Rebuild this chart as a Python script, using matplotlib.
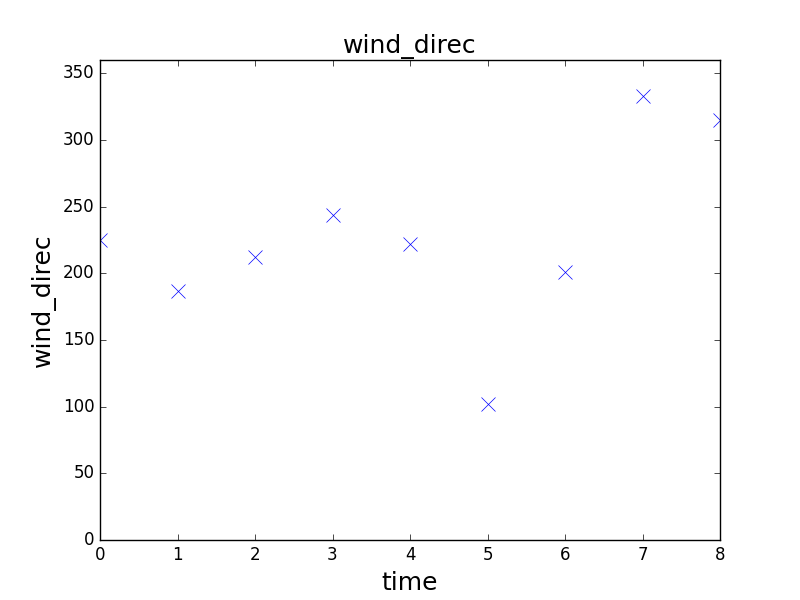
import matplotlib
matplotlib.use("Agg")
import matplotlib.pyplot as plt

plt.style.use('classic')

time = [0, 1, 2, 3, 4, 5, 6, 7, 8]
wind_direc = [225, 187, 212, 244, 222, 102, 201, 333, 315]

fig, ax = plt.subplots(figsize=(8, 6), dpi=100)
ax.plot(time, wind_direc, linestyle='none', marker='x', color='b', markersize=10, markeredgewidth=0.5)
ax.set_xlim(0, 8)
ax.set_ylim(0, 360)
ax.set_yticks(range(0, 351, 50))
ax.set_title('wind_direc', fontsize=18)
ax.set_xlabel('time', fontsize=18)
ax.set_ylabel('wind_direc', fontsize=18)
fig.savefig('out.png', dpi=100)
